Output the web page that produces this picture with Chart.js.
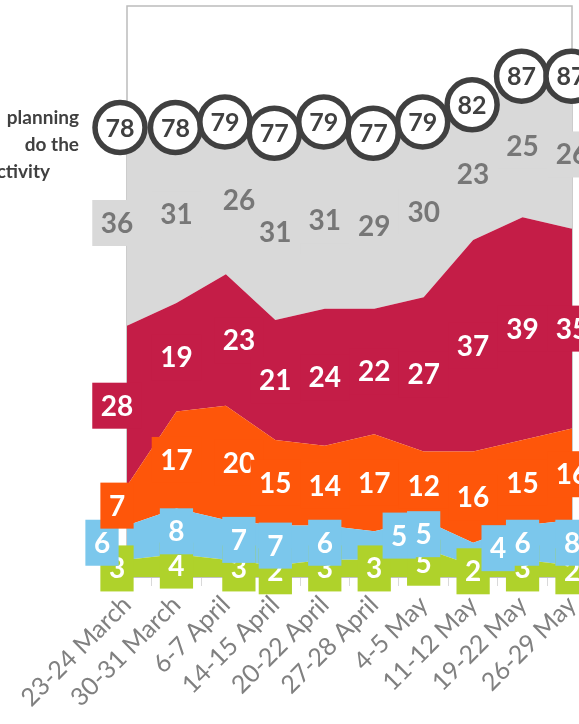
<!DOCTYPE html>
<html>
<head>
<meta charset="utf-8">
<script src="https://cdn.jsdelivr.net/npm/chart.js@4.4.0/dist/chart.umd.min.js"></script>
<style>
  html, body { margin: 0; padding: 0; background: #fff; }
  #wrap { position: relative; width: 579px; height: 724px; overflow: hidden; }
  #chart { position: absolute; left: 0; top: 0; }
  .cap { position: absolute; font: bold 19px Lato, sans-serif; color: #404040; white-space: nowrap; line-height: 20px; }
</style>
</head>
<body>
<div id="wrap">
  <canvas id="chart" width="579" height="724"></canvas>
  <div class="cap" style="right:500px; top:107px;">planning</div>
  <div class="cap" style="right:500px; top:134px;">do the</div>
  <div class="cap" style="right:529px; top:161px;">ctivity</div>
</div>
<script>
// data
const dates = ['23-24 March', '30-31 March', '6-7 April', '14-15 April', '20-22 April',
               '27-28 April', '4-5 May', '11-12 May', '19-22 May', '26-29 May'];
const greenVals  = [3, 4, 3, 2, 3, 3, 5, 2, 3, 2];
const blueVals   = [6, 8, 7, 7, 6, 5, 5, 4, 6, 8];
const orangeVals = [7, 17, 20, 15, 14, 17, 12, 16, 15, 16];
const redVals    = [28, 19, 23, 21, 24, 22, 27, 37, 39, 35];
const greyVals   = [36, 31, 26, 31, 31, 29, 30, 23, 25, 26];
const totals     = [78, 78, 79, 77, 79, 77, 79, 82, 87, 87];

// hand moved labels (dataset index, point index) -> [dx, dy]
function labelShift(di, i) {
    if (i === 0) return di === 1 ? [-25, 0] : [-10, 0];
    if (i === 2) return [13, 0];
    if (di === 1 && i === 5) return [25, -10];
    if (di === 1 && i === 7) return [25, -6];
    return [0, 0];
}

const plotBorder = {
    id: 'plotBorder',
    beforeDatasetsDraw(chart) {
        const a = chart.chartArea;
        const ctx = chart.ctx;
        ctx.save();
        ctx.strokeStyle = '#bcbcbc';
        ctx.lineWidth = 1.5;
        ctx.strokeRect(a.left, a.top, a.right - a.left, a.bottom - a.top);
        ctx.restore();
    }
};

const valueLabels = {
    id: 'valueLabels',
    afterDatasetsDraw(chart) {
        const ctx = chart.ctx;
        const xs = chart.scales.x, ys = chart.scales.y;
        const sets = chart.data.datasets;
        ctx.save();
        ctx.font = 'bold 28px Lato';
        ctx.textAlign = 'center';
        ctx.textBaseline = 'middle';
        sets.forEach((ds, di) => {
            ds.data.forEach((v, i) => {
                let below = 0;
                for (let k = 0; k < di; k++) below += sets[k].data[i];
                const sh = labelShift(di, i);
                const x = xs.getPixelForValue(i) + sh[0];
                const y = ys.getPixelForValue(below + v / 2) + sh[1];
                const txt = String(v);
                const w = ctx.measureText(txt).width + 17;
                ctx.fillStyle = ds.backgroundColor;
                ctx.fillRect(x - w / 2, y - 23, w, 46);
                ctx.fillStyle = ds.labelColor;
                ctx.fillText(txt, x, y + 1);
            });
        });
        // total circles
        ctx.font = 'bold 25px Lato';
        totals.forEach((t, i) => {
            const x = xs.getPixelForValue(i) + (i === 0 ? -7 : -1);
            const y = ys.getPixelForValue(t) - 4;
            ctx.beginPath();
            ctx.arc(x, y, 25, 0, Math.PI * 2);
            ctx.fillStyle = '#fff';
            ctx.fill();
            ctx.lineWidth = 5.5;
            ctx.strokeStyle = '#404040';
            ctx.stroke();
            ctx.fillStyle = '#404040';
            ctx.fillText(String(t), x, y + 1);
        });
        ctx.restore();
    }
};

function area(vals, color, labelColor, fill) {
    return {
        data: vals,
        backgroundColor: color,
        borderWidth: 0,
        pointRadius: 0,
        tension: 0,
        fill: fill,
        labelColor: labelColor
    };
}

new Chart(document.getElementById('chart'), {
    type: 'line',
    data: {
        labels: dates,
        datasets: [
            area(greenVals, '#afd22b', '#fff', 'origin'),
            area(blueVals, '#7bc7ec', '#fff', '-1'),
            area(orangeVals, '#fe560a', '#fff', '-1'),
            area(redVals, '#c41d47', '#fff', '-1'),
            area(greyVals, '#d9d9d9', '#777777', '-1')
        ]
    },
    options: {
        responsive: false,
        animation: false,
        layout: { padding: { left: 127, right: 7, top: 6, bottom: 0 } },
        scales: {
            x: {
                offset: false,
                grid: { display: true, offset: true, drawOnChartArea: false, drawTicks: true, tickLength: 9, color: '#d9d9d9' },
                border: { display: true, color: '#d9d9d9' },
                ticks: {
                    autoSkip: false, minRotation: 45, maxRotation: 45,
                    color: '#808080', font: { family: 'Lato', size: 25 }, padding: 4
                },
                afterFit(scale) {
                    scale.height = 147;
                    scale.paddingLeft = 0;
                    scale.paddingRight = 0;
                }
            },
            y: { display: false, stacked: true, min: 0, max: 100 }
        },
        plugins: { legend: { display: false }, tooltip: { enabled: false } }
    },
    plugins: [plotBorder, valueLabels]
});
</script>
</body>
</html>
